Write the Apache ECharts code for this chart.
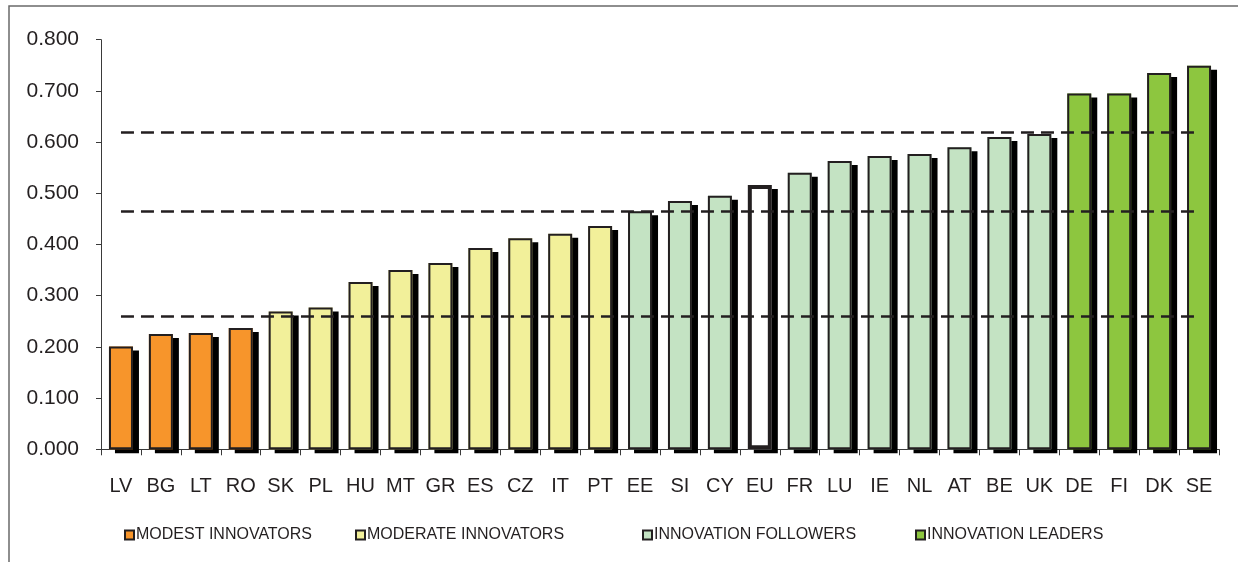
<!DOCTYPE html>
<html>
<head>
<meta charset="utf-8">
<script src="https://cdn.jsdelivr.net/npm/echarts@6/dist/echarts.min.js"></script>
<style>
  html, body { margin: 0; padding: 0; background: #fff; }
  #chart { width: 1238px; height: 562px; }
</style>
</head>
<body>
<div id="chart"></div>
<script>
// Summary innovation index by country
const categories = ['LV','BG','LT','RO','SK','PL','HU','MT','GR','ES','CZ','IT','PT','EE','SI','CY','EU','FR','LU','IE','NL','AT','BE','UK','DE','FI','DK','SE'];
const values = [0.201,0.225,0.227,0.237,0.269,0.277,0.327,0.350,0.364,0.393,0.412,0.421,0.436,0.465,0.485,0.495,0.516,0.540,0.563,0.573,0.577,0.590,0.610,0.616,0.695,0.695,0.735,0.749];

// Country groups
const modest = ['LV','BG','LT','RO'];
const moderate = ['SK','PL','HU','MT','GR','ES','CZ','IT','PT'];
const followers = ['EE','SI','CY','FR','LU','IE','NL','AT','BE','UK'];
const leaders = ['DE','FI','DK','SE'];
const average = ['EU'];

// Group thresholds drawn as dashed reference lines
const thresholds = [0.259, 0.464, 0.620];

const yTicks = { min: 0, max: 0.8, interval: 0.1 };

const ink = '#231f20';
const font = 'Liberation Sans, Arial, Helvetica, sans-serif';

function groupData(members) {
  return categories.map((c, i) => members.indexOf(c) >= 0 ? values[i] : '-');
}

// Drop shadow layer: filled bar casting a hard black shadow, no outline
function shadowSeries(members, fill) {
  return {
    name: 'shadow-' + members[0],
    type: 'bar',
    data: groupData(members),
    barWidth: 24,
    barGap: '-100%',
    silent: true,
    z: 1,
    itemStyle: {
      color: fill,
      borderWidth: 0,
      shadowColor: '#000',
      shadowBlur: 0,
      shadowOffsetX: 6,
      shadowOffsetY: 4
    },
    emphasis: { disabled: true }
  };
}

// Visible bar with its dark outline
function barSeries(name, members, fill, borderWidth) {
  return {
    name: name,
    type: 'bar',
    data: groupData(members),
    barWidth: 24,
    barGap: '-100%',
    silent: true,
    z: 2,
    itemStyle: {
      color: fill,
      borderColor: ink,
      borderWidth: borderWidth
    },
    emphasis: { disabled: true }
  };
}

const groups = [
  { name: 'MODEST INNOVATORS', members: modest, color: '#f7952b', left: 124 },
  { name: 'MODERATE INNOVATORS', members: moderate, color: '#f2f09a', left: 355 },
  { name: 'INNOVATION FOLLOWERS', members: followers, color: '#c4e3c3', left: 642 },
  { name: 'INNOVATION LEADERS', members: leaders, color: '#8dc63f', left: 915 }
];

const series = [];
groups.forEach(g => series.push(shadowSeries(g.members, g.color)));
series.push(shadowSeries(average, '#ffffff'));
groups.forEach(g => series.push(barSeries(g.name, g.members, g.color, 2)));
series.push(barSeries('EU', average, '#ffffff', 4));

// dashed group thresholds across the categories
series.push({
  name: 'thresholds',
  type: 'line',
  data: [],
  silent: true,
  markLine: {
    silent: true,
    symbol: 'none',
    z: 10,
    label: { show: false },
    emphasis: { disabled: true },
    lineStyle: { color: ink, width: 2.5, type: [13, 7] },
    data: thresholds.map(t => [
      { coord: [categories[0], t] },
      { coord: [categories[categories.length - 1], t] }
    ])
  }
});

const legends = groups.map(g => ({
  data: [g.name],
  left: g.left,
  top: 527,
  padding: 0,
  selectedMode: false,
  icon: 'rect',
  itemWidth: 9,
  itemHeight: 9,
  itemStyle: {
    borderColor: ink,
    borderWidth: 2
  },
  textStyle: { fontFamily: font, fontSize: 16, color: ink, padding: [0, 0, 0, -3] }
}));

const chart = echarts.init(document.getElementById('chart'), null, { renderer: 'canvas' });
chart.setOption({
  animation: false,
  backgroundColor: '#ffffff',
  textStyle: { fontFamily: font },
  grid: { left: 101, right: 19, top: 39.7, bottom: 112.7, containLabel: false, outerBoundsMode: 'none' },
  xAxis: {
    type: 'category',
    data: categories,
    axisLine: { show: true, lineStyle: { color: '#3a3a3a', width: 1 } },
    axisTick: { show: true, interval: 0, length: 6, lineStyle: { color: '#3a3a3a' } },
    axisLabel: { interval: 0, margin: 27, fontFamily: font, fontSize: 20, color: ink },
    splitLine: { show: false }
  },
  yAxis: {
    type: 'value',
    min: yTicks.min,
    max: yTicks.max,
    interval: yTicks.interval,
    axisLine: { show: true, lineStyle: { color: '#3a3a3a', width: 1 } },
    axisTick: { show: true, length: 5, lineStyle: { color: '#3a3a3a' } },
    axisLabel: {
      margin: 22,
      fontFamily: font,
      fontSize: 21,
      color: ink,
      formatter: v => v.toFixed(3)
    },
    splitLine: { show: false }
  },
  legend: legends,
  graphic: [{
    type: 'rect',
    silent: true,
    z: -1,
    shape: { x: 9, y: 6, width: 1300, height: 700 },
    style: { fill: 'none', stroke: '#6a6a6a', lineWidth: 1.5 }
  }],
  series: series
});
</script>
</body>
</html>
